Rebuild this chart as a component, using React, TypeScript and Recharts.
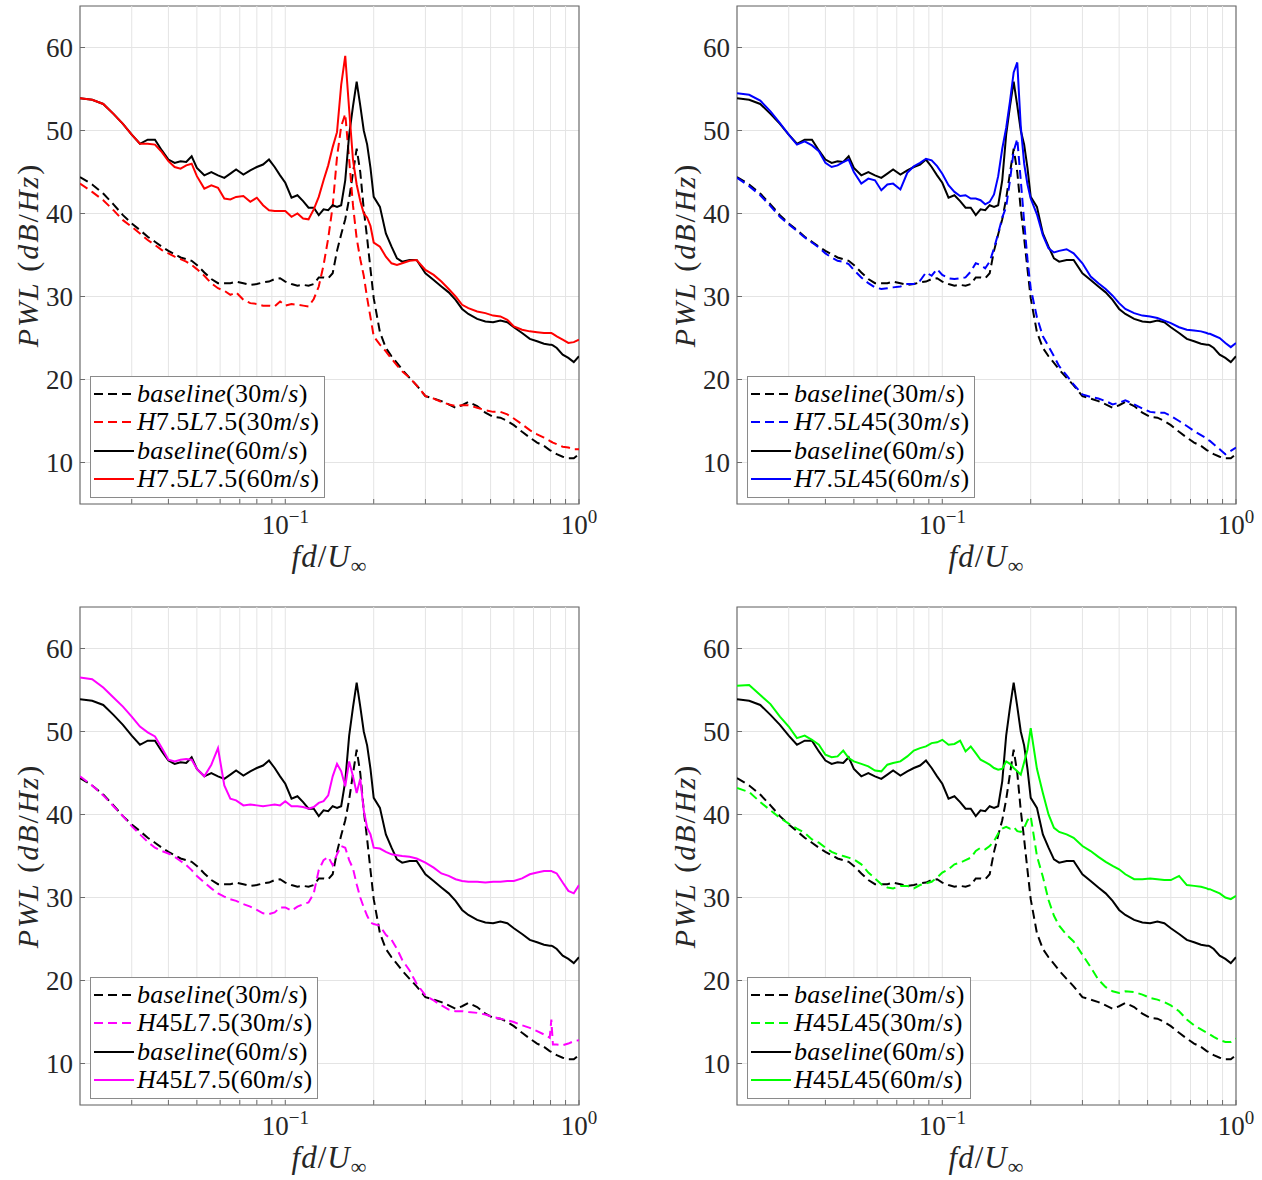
import React from 'react';
import { LineChart, Line, XAxis, YAxis, CartesianGrid, ReferenceLine, ReferenceArea } from 'recharts';

// normalised frequency fd/U (shared by every series)
const FREQ = [
  0.020, 0.022, 0.024, 0.026, 0.028, 0.030, 0.032, 0.034, 0.036, 0.038, 0.040, 0.042, 0.044, 0.046, 0.048, 0.050,
  0.053, 0.056, 0.059, 0.062, 0.065, 0.068,
  0.072, 0.076, 0.080, 0.084, 0.088, 0.092, 0.096, 0.100,
  0.105, 0.110, 0.115, 0.120, 0.125, 0.130, 0.135, 0.140, 0.145, 0.150, 0.155, 0.160, 0.165, 0.170, 0.175, 0.180, 0.185, 0.190, 0.195, 0.200,
  0.210, 0.220, 0.230, 0.240, 0.250,
  0.265, 0.280, 0.300, 0.320, 0.340, 0.360, 0.380, 0.400, 0.420,
  0.450, 0.480, 0.510, 0.540, 0.570, 0.600,
  0.640, 0.680, 0.720, 0.760,
  0.795, 0.805, 0.815,
  0.840, 0.880, 0.920, 0.960, 1.000,
];

// PWL (dB/Hz)
const BASE_30 = [
  44.4, 43.5, 42.4, 41.1, 39.8, 38.8, 38.0, 37.2, 36.6, 36.0, 35.5, 35.1, 34.7, 34.5, 34.3, 33.8,
  32.9, 32.1, 31.6, 31.6, 31.6, 31.8,
  31.6, 31.4, 31.5, 31.7, 31.8, 32.1, 32.2, 31.8,
  31.5, 31.3, 31.4, 31.3, 31.5, 32.3, 32.3, 32.2, 32.8, 35.5, 37.5, 39.3, 41.8, 44.9, 47.8, 45.0, 40.5, 37.0, 33.3, 29.8,
  25.7, 23.8, 22.8, 22.0, 21.2,
  20.2, 19.3, 18.0, 17.7, 17.4, 17.0, 16.6, 16.9, 17.3,
  16.8, 16.0, 15.5, 15.4, 15.0, 14.5,
  13.7, 13.0, 12.4, 12.0,
  11.5, 11.4, 11.3,
  11.0, 10.7, 10.5, 10.5, 11.0,
];
const BASE_60 = [
  53.9, 53.7, 53.2, 52.0, 50.8, 49.5, 48.4, 48.9, 48.9, 47.6, 46.5, 46.1, 46.3, 46.2, 46.9, 45.5,
  44.6, 45.0, 44.6, 44.3, 44.8, 45.3,
  44.7, 45.2, 45.6, 45.9, 46.5, 45.6, 44.6, 43.7,
  41.9, 42.2, 41.5, 40.7, 40.7, 39.8, 40.5, 40.4, 41.0, 40.8, 41.0, 44.0, 49.5, 52.9, 55.9, 53.0, 50.0, 48.3, 45.5, 42.0,
  40.8, 37.6, 36.0, 34.6, 34.2,
  34.4, 34.4, 32.8, 32.0, 31.2, 30.5, 29.6, 28.5, 27.9,
  27.3, 27.0, 26.9, 27.1, 26.9, 26.3,
  25.6, 24.9, 24.6, 24.3,
  24.2, 24.2, 24.1,
  23.8, 23.0, 22.6, 22.1, 22.8,
];

const H75L75_30 = [
  43.6, 42.6, 41.6, 40.4, 39.2, 38.4, 37.6, 36.8, 36.2, 35.6, 35.2, 34.8, 34.5, 34.2, 33.8, 33.3,
  32.5, 31.6, 31.0, 30.7, 30.2, 30.5,
  29.6, 29.2, 29.1, 28.9, 28.9, 28.8, 29.4, 28.9,
  29.1, 29.0, 28.9, 28.8, 29.7, 31.2, 33.8, 37.0, 40.9, 46.8, 50.5, 52.0, 46.5, 41.0, 37.0, 34.5, 32.5, 29.8, 27.5, 25.2,
  24.2, 23.4, 22.5, 21.7, 21.0,
  20.2, 19.3, 18.0, 17.7, 17.3, 17.0, 16.8, 16.9, 16.9,
  16.6, 16.3, 16.1, 16.1, 15.8, 15.3,
  14.6, 13.9, 13.4, 13.0,
  12.6, 12.5, 12.4,
  12.2, 11.9, 11.8, 11.6, 11.6,
];
const H75L75_60 = [
  53.9, 53.7, 53.2, 52.0, 50.8, 49.5, 48.4, 48.4, 48.3, 47.4, 46.3, 45.6, 45.4, 45.8, 46.0, 44.5,
  43.0, 43.4, 43.1, 41.8, 41.7, 42.0,
  42.1, 41.4, 41.9, 41.0, 40.4, 40.3, 40.3, 40.3,
  39.6, 40.0, 39.4, 39.3, 40.5, 42.0, 44.0, 45.8, 48.0, 49.8, 55.5, 59.0, 52.5, 46.5, 43.5, 41.5, 40.0, 39.5, 38.5, 36.5,
  36.0, 34.8, 34.0, 33.8, 34.0,
  34.3, 34.4, 33.2, 32.6, 31.8, 30.9, 30.0, 29.0, 28.6,
  28.2, 28.0, 27.7, 27.6, 27.2, 26.4,
  26.0, 25.8, 25.7, 25.6,
  25.6, 25.6, 25.5,
  25.2, 24.8, 24.4, 24.5, 24.8,
];

const H75L45_30 = [
  44.3, 43.3, 42.2, 40.9, 39.6, 38.7, 37.9, 37.1, 36.5, 35.9, 35.2, 34.7, 34.3, 34.2, 33.9, 33.2,
  32.3, 31.6, 31.1, 30.9, 31.0, 31.1,
  31.2, 31.5, 31.5, 31.9, 32.9, 32.5, 33.3, 32.6,
  32.2, 32.1, 32.2, 32.3, 33.0, 34.0, 33.8, 33.4, 34.2, 35.8, 37.6, 39.5, 40.8, 44.0, 47.5, 49.0, 44.0, 39.0, 34.5, 31.0,
  27.5, 25.2, 24.0, 22.8, 21.6,
  20.5, 19.4, 18.2, 17.9, 17.7, 17.4, 17.0, 17.2, 17.5,
  17.0, 16.5, 16.1, 16.0, 16.0, 15.6,
  15.0, 14.4, 13.8, 13.3,
  12.9, 12.7, 12.6,
  12.2, 11.6, 11.0, 11.4, 11.8,
];
const H75L45_60 = [
  54.5, 54.3, 53.6, 52.3, 50.9, 49.5, 48.3, 48.7, 48.2, 47.5, 46.1, 45.6, 45.8, 46.2, 46.5, 45.0,
  43.6, 44.2, 44.0, 42.8, 43.5, 43.6,
  42.9, 44.9, 45.7, 46.1, 46.6, 46.4, 45.7, 44.8,
  43.4, 42.6, 42.1, 42.2, 41.8, 41.8, 41.6, 41.1, 41.4, 42.3, 44.5, 47.8, 50.3, 53.5, 57.0, 58.2, 50.5, 46.0, 43.5, 41.8,
  39.9, 37.4, 35.8, 35.3, 35.5,
  35.7, 35.2, 34.0, 32.4, 31.6, 30.9, 30.1, 29.2, 28.5,
  28.0, 27.7, 27.6, 27.4, 27.1, 26.8,
  26.3, 26.0, 25.9, 25.8,
  25.6, 25.5, 25.5,
  25.3, 25.0, 24.4, 23.9, 24.4,
];

const H45L75_30 = [
  44.6, 43.5, 42.3, 41.0, 39.8, 38.6, 37.6, 36.7, 36.0, 35.6, 35.3, 34.9, 34.4, 33.9, 33.3, 32.6,
  31.8, 31.1, 30.5, 30.1, 29.8, 29.6,
  29.2, 28.9, 28.5, 28.1, 28.0, 28.2, 28.8, 28.8,
  28.4, 28.9, 29.2, 29.4, 30.5, 33.3, 34.5, 34.9, 33.9, 35.2, 36.2, 36.0, 34.5, 33.5, 31.6, 30.0, 28.8, 27.8, 27.0, 26.8,
  26.6, 25.5, 24.9, 23.8, 22.5,
  21.2, 19.6, 18.2, 17.6, 17.0, 16.5, 16.3, 16.3, 16.2,
  16.1, 15.9, 15.6, 15.4, 15.2, 15.0,
  14.6, 14.3, 13.9, 13.5,
  13.1, 15.3, 12.3,
  12.3, 12.2, 12.4, 12.7, 12.8,
];
const H45L75_60 = [
  56.5, 56.3, 55.3, 54.1, 53.0, 51.8, 50.6, 49.9, 49.4, 48.0, 46.6, 46.4, 46.6, 46.7, 46.6, 45.5,
  44.6, 46.0, 48.0, 43.5, 41.9, 41.7,
  41.1, 41.2, 41.1, 41.0, 41.1, 41.2, 41.1, 41.6,
  41.0, 41.0, 40.9, 40.7, 40.9, 41.4, 41.6, 42.3, 44.6, 46.1, 45.2, 43.4, 46.4, 44.6, 42.6, 44.3, 40.5, 38.4, 37.6, 36.0,
  35.9, 35.5, 35.2, 35.1, 35.0,
  34.9, 34.7, 34.2, 33.6, 32.9, 32.6, 32.2, 32.0, 31.9,
  31.9, 31.8, 31.9, 31.9, 32.0, 32.0,
  32.3, 32.8, 33.0, 33.2,
  33.2, 33.2, 33.1,
  32.9, 31.8, 30.8, 30.5, 31.5,
];

const H45L45_30 = [
  43.2, 42.7, 41.5, 40.5, 39.6, 38.9, 38.3, 37.8, 37.0, 36.6, 36.0, 35.5, 35.2, 35.0, 34.8, 34.6,
  34.0, 33.0, 32.3, 31.6, 31.2, 31.1,
  31.4, 31.4, 31.1, 31.5, 31.7, 31.9, 32.4, 33.0,
  33.4, 34.0, 34.2, 34.5, 34.8, 35.6, 36.0, 35.8, 36.2, 36.8, 37.7, 38.3, 38.5, 38.3, 38.5, 38.0, 37.9, 38.4, 39.3, 39.8,
  35.0, 32.5, 29.7, 27.8, 26.6,
  25.5, 24.7, 23.1, 21.6, 20.1, 19.2, 18.7, 18.5, 18.7,
  18.6, 18.3, 17.9, 17.7, 17.4, 17.0,
  16.3, 15.3, 14.6, 14.1,
  13.7, 13.6, 13.5,
  13.2, 12.8, 12.6, 12.6, 13.0,
];
const H45L45_60 = [
  55.5, 55.6, 54.4, 53.3, 51.8, 50.6, 49.2, 49.5, 49.0, 48.4, 47.2, 46.9, 47.0, 47.7, 46.8, 46.4,
  46.1, 45.8, 45.3, 45.2, 46.0, 46.2,
  46.4, 47.0, 47.7, 48.0, 48.2, 48.6, 48.7, 49.0,
  48.4, 48.5, 48.9, 47.6, 48.2, 47.4, 46.6, 46.3, 46.0, 45.6, 45.4, 45.5, 46.4, 46.1, 45.6, 45.2, 44.8, 46.3, 47.8, 50.4,
  45.5, 42.6, 40.0, 38.4, 37.9,
  37.6, 37.2, 36.2, 35.6, 34.9, 34.3, 33.8, 33.4, 32.8,
  32.2, 32.2, 32.3, 32.2, 32.1, 32.1,
  32.6, 31.5, 31.4, 31.3,
  31.1, 31.0, 31.0,
  30.8, 30.5, 30.0, 29.8, 30.2,
];

const CASE_NAMES = ['H7.5L7.5', 'H7.5L45', 'H45L7.5', 'H45L45'];
const CASE_COLORS = ['#ff0000', '#0000ff', '#ff00ff', '#00ff00'];
const CASE_30 = [H75L75_30, H75L45_30, H45L75_30, H45L45_30];
const CASE_60 = [H75L75_60, H75L45_60, H45L75_60, H45L45_60];

const Y_TICKS = [10, 20, 30, 40, 50, 60];
const X_TICKS = [
  0.03, 0.04, 0.05, 0.06, 0.07, 0.08, 0.09, 0.1,
  0.2, 0.3, 0.4, 0.5, 0.6, 0.7, 0.8, 0.9, 1,
];
const X_GRID = [0.03, 0.04, 0.05, 0.06, 0.07, 0.08, 0.09, 0.1, 0.2, 0.3, 0.4, 0.5, 0.6, 0.7, 0.8, 0.9];

const FONT = '"Liberation Serif", "DejaVu Serif", "Times New Roman", serif';
const GRID = '#e4e4e4';
const AXIS = '#6b6b6b';
const DASH = '9 5';

// LaTeX-like text: letters italic, digits and symbols upright
const splitMath = (s: string) => s.match(/[A-Za-z]+|[^A-Za-z]+/g) || [];
const isWord = (s: string) => /^[A-Za-z]/.test(s);

const LogTick = (props: any) => {
  const { x, y, payload } = props;
  const e = Math.log10(payload.value);
  if (Math.abs(e - Math.round(e)) > 1e-6) return <g />;
  const n = Math.round(e);
  return (
    <text x={x} y={y + 30} textAnchor="middle" fontFamily={FONT} fontSize={27} fill="#262626">
      <tspan>10</tspan>
      <tspan dy={-11} fontSize={19}>{n < 0 ? '\u2212' + -n : String(n)}</tspan>
    </text>
  );
};

const NoTick = () => <g />;

const YLabel = (props: any) => {
  const vb = props.viewBox || { x: 0, y: 6, width: 80, height: 498 };
  const cx = vb.x + 27;
  const cy = vb.y + vb.height / 2;
  return (
    <text x={cx} y={cy} transform={`rotate(-90 ${cx} ${cy})`} textAnchor="middle" dominantBaseline="central"
      fontFamily={FONT} fontSize={30} fill="#262626" letterSpacing={2}>
      {splitMath('PWL (dB/Hz)').map((p, i) => (
        <tspan key={i} fontStyle={isWord(p) ? 'italic' : 'normal'}>{p}</tspan>
      ))}
    </text>
  );
};

const XLabel = (props: any) => {
  const vb = props.viewBox || { x: 80, y: 504, width: 499, height: 86 };
  const cx = vb.x + vb.width / 2;
  return (
    <text x={cx} y={vb.y + 63} textAnchor="middle" fontFamily={FONT} fontSize={31} fill="#262626" letterSpacing={1}>
      <tspan fontStyle="italic">fd</tspan>
      <tspan>/</tspan>
      <tspan fontStyle="italic">U</tspan>
      <tspan dy={6} fontSize={22}>{'\u221E'}</tspan>
    </text>
  );
};

type Item = { label: string; color: string; dashed: boolean };

const LegendBox = ({ items }: { items: Item[] }) => (
  <div style={{
    position: 'absolute', left: 90, top: 376, background: '#fff', border: '1px solid #8a8a8a',
    padding: '3px 5px 4px 2px',
  }}>
    {items.map((it) => (
      <div key={it.label} style={{ display: 'flex', alignItems: 'center', height: 28.3 }}>
        <svg width={42} height={10} style={{ display: 'block' }}>
          <line x1={1} y1={5} x2={41} y2={5} stroke={it.color} strokeWidth={2}
            strokeDasharray={it.dashed ? DASH : undefined} />
        </svg>
        <span style={{
          marginLeft: 2, fontFamily: FONT, fontSize: 26, lineHeight: '28px', whiteSpace: 'nowrap',
          color: '#000', letterSpacing: 0.3,
        }}>
          {splitMath(it.label).map((p, i) => (
            <span key={i} style={{ fontStyle: isWord(p) ? 'italic' : 'normal' }}>{p}</span>
          ))}
        </span>
      </div>
    ))}
  </div>
);

const Panel = ({ idx, left, top }: { idx: number; left: number; top: number }) => {
  const c30 = CASE_30[idx];
  const c60 = CASE_60[idx];
  const color = CASE_COLORS[idx];
  const name = CASE_NAMES[idx];
  const data = FREQ.map((f, i) => ({ f, base30: BASE_30[i], case30: c30[i], base60: BASE_60[i], case60: c60[i] }));
  const items: Item[] = [
    { label: 'baseline(30m/s)', color: '#000', dashed: true },
    { label: `${name}(30m/s)`, color, dashed: true },
    { label: 'baseline(60m/s)', color: '#000', dashed: false },
    { label: `${name}(60m/s)`, color, dashed: false },
  ];
  return (
    <div style={{ position: 'absolute', left, top, width: 600, height: 590 }}>
      <LineChart width={600} height={590} data={data} margin={{ top: 6, right: 21, bottom: 0, left: 0 }}>
        <CartesianGrid vertical={false} stroke={GRID} strokeWidth={1} />
        {X_GRID.map((v) => (
          <ReferenceLine key={v} x={v} stroke={GRID} strokeWidth={1} />
        ))}
        <XAxis dataKey="f" type="number" scale="log" domain={[0.02, 1]} allowDataOverflow ticks={X_TICKS}
          interval={0} axisLine={false} tickLine={{ stroke: AXIS }} tickSize={-5} tickMargin={5} height={86}
          tick={<LogTick />} label={<XLabel />} />
        <XAxis xAxisId="top" orientation="top" dataKey="f" type="number" scale="log" domain={[0.02, 1]}
          allowDataOverflow ticks={X_TICKS} interval={0} axisLine={false} tickLine={{ stroke: AXIS }}
          tickSize={-5} height={0} tick={<NoTick />} />
        <YAxis type="number" domain={[5, 65]} ticks={Y_TICKS} allowDataOverflow width={80}
          axisLine={false} tickLine={{ stroke: AXIS }} tickSize={-5} tickMargin={12}
          tick={{ fontFamily: FONT, fontSize: 27, fill: '#262626' }} label={<YLabel />} />
        <YAxis yAxisId="right" orientation="right" type="number" domain={[5, 65]} ticks={Y_TICKS}
          allowDataOverflow width={0} axisLine={false} tickLine={{ stroke: AXIS }} tickSize={-5} tick={<NoTick />} />
        <Line dataKey="base30" stroke="#000" strokeWidth={2} strokeDasharray={DASH} dot={false} isAnimationActive={false} />
        <Line dataKey="case30" stroke={color} strokeWidth={2} strokeDasharray={DASH} dot={false} isAnimationActive={false} />
        <Line dataKey="base60" stroke="#000" strokeWidth={2} dot={false} isAnimationActive={false} />
        <Line dataKey="case60" stroke={color} strokeWidth={2} dot={false} isAnimationActive={false} />
        <ReferenceArea x1={0.02} x2={1} y1={5} y2={65} fill="none" stroke={AXIS} strokeWidth={1.2} ifOverflow="visible" />
      </LineChart>
      <LegendBox items={items} />
    </div>
  );
};

export default function App() {
  return (
    <div style={{ position: 'absolute', left: 0, top: 0, width: 1262, height: 1180, background: '#fff' }}>
      <Panel idx={0} left={0} top={0} />
      <Panel idx={1} left={657} top={0} />
      <Panel idx={2} left={0} top={601} />
      <Panel idx={3} left={657} top={601} />
    </div>
  );
}
